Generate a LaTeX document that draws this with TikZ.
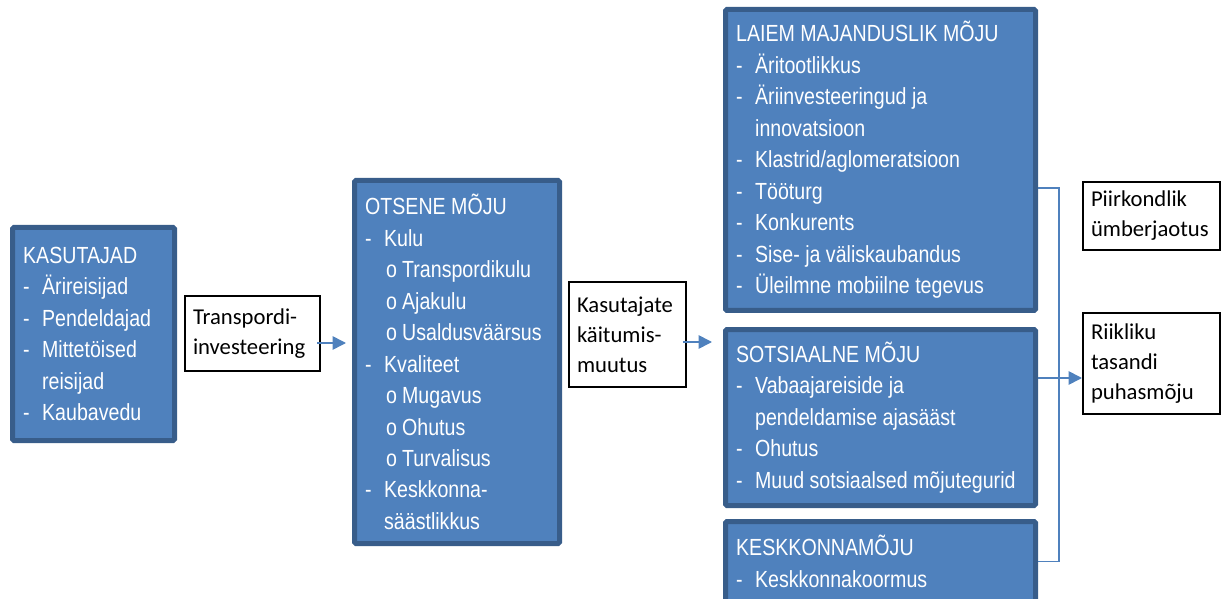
\documentclass[tikz,border=0pt]{standalone}
\usepackage{fontspec}
\usepackage{tikz}
\usetikzlibrary{arrows.meta}

\newfontfamily\bluefont{Liberation Sans}[FakeStretch=0.84]
\newfontfamily\blackfont{Carlito}
\definecolor{mblue}{HTML}{4F81BD}
\definecolor{bdark}{HTML}{385D8A}

\newcommand{\ditem}[1]{\makebox[14.25pt][l]{-}#1}
\newcommand{\dcont}[1]{\hspace*{14.25pt}#1}
\newcommand{\citem}[1]{\hspace*{15.75pt}\makebox[12pt][l]{o}#1}

\tikzset{
	bluebox/.style={draw=bdark, line width=3.75pt, fill=mblue, rounded corners=1pt, text=white,
		anchor=north west, align=flush left, inner xsep=8pt, inner ysep=0pt,
		font=\bluefont\fontsize{17.5pt}{23.6pt}\selectfont},
	wbox/.style={draw=black, line width=1.5pt, fill=white, anchor=north west, align=flush left,
		inner xsep=6pt, inner ysep=0pt, font=\blackfont\fontsize{17pt}{22.5pt}\selectfont},
	conn/.style={draw=mblue, line width=1.2pt},
	arr/.style={conn, -{Triangle[length=10pt,width=10pt]}}
}

\begin{document}
\begin{tikzpicture}[x=0.75pt, y=-0.75pt]
			\useasboundingbox (0,0) rectangle (1222,599);

			\node[bluebox, text width=105.5pt, minimum height=159.75pt] (kas) at (10,225)
				{KASUTAJAD\\ \ditem{Ärireisijad}\\ \ditem{Pendeldajad}\\ \ditem{Mittetöised}\\ \dcont{reisijad}\\ \ditem{Kaubavedu}};
			\node[wbox, text width=89.25pt, minimum height=56.25pt] (tra) at (184,295) {Transpordi-\\investeering};

			\node[bluebox, text width=137.75pt, minimum height=272.25pt] (otse) at (352,178)
				{OTSENE MÕJU\\ \ditem{Kulu}\\ \citem{Transpordikulu}\\ \citem{Ajakulu}\\ \citem{Usaldusväärsus}\\
				 \ditem{Kvaliteet}\\ \citem{Mugavus}\\ \citem{Ohutus}\\ \citem{Turvalisus}\\ \ditem{Keskkonna-}\\ \dcont{säästlikkus}};
			\node[wbox, text width=75.75pt, minimum height=78.75pt] (kai) at (568,281) {Kasutajate\\käitumis-\\muutus};

			\node[bluebox, text width=216.5pt, minimum height=225.75pt] (lai) at (723,7)
				{LAIEM MAJANDUSLIK MÕJU\\ \ditem{Äritootlikkus}\\ \ditem{Äriinvesteeringud ja}\\ \dcont{innovatsioon}\\
				 \ditem{Klastrid/aglomeratsioon}\\ \ditem{Tööturg}\\ \ditem{Konkurents}\\ \ditem{Sise- ja väliskaubandus}\\
				 \ditem{Üleilmne mobiilne tegevus}};
			\node[bluebox, text width=216.5pt, minimum height=132pt] (sot) at (723,327)
				{SOTSIAALNE MÕJU\\ \ditem{Vabaajareiside ja}\\ \dcont{pendeldamise ajasääst}\\ \ditem{Ohutus}\\ \ditem{Muud sotsiaalsed mõjutegurid}};
			\node[bluebox, text width=216.5pt, minimum height=60pt] (kes) at (723,519)
				{KESKKONNAMÕJU\\ \ditem{Keskkonnakoormus}};

			\node[wbox, text width=90.75pt, minimum height=51pt] (pii) at (1082,181) {Piirkondlik\\ümberjaotus};
			\node[wbox, text width=90.75pt, minimum height=75.75pt] (rii) at (1082,312) {Riikliku\\tasandi\\puhasmõju};

			\coordinate (a1) at ([shift={(-4,9.5)}]tra.east);
			\coordinate (a2) at ([shift={(-4,7.5)}]kai.east);
			\coordinate (a3) at ([shift={(0,28)}]lai.east);
			\coordinate (a4) at ([shift={(0,-39.5)}]sot.east);
			\coordinate (bus) at (1059,0);

			\draw[arr, shorten >=4.5pt] (a1) -- (a1 -| otse.west);
			\draw[arr, shorten >=8.25pt] (a2) -- (a2 -| sot.west);
			\draw[conn] (a3) -- (a3 -| bus) -- (bus |- kes.east) -- (kes.east);
			\draw[arr] (a4) -- (a4 -| rii.west);
		\end{tikzpicture}
\end{document}
